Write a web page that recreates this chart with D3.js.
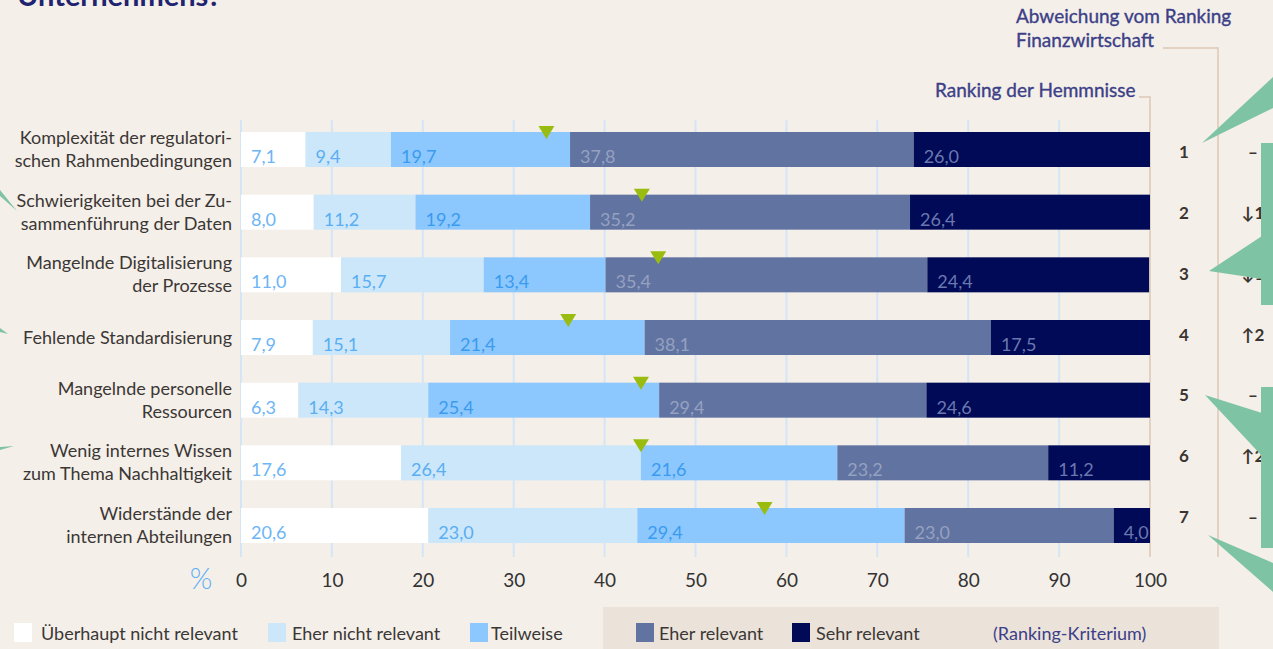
<!DOCTYPE html>
<html><head><meta charset="utf-8">
<script src="https://cdn.jsdelivr.net/npm/d3@7"></script>
<style>
html,body{margin:0;padding:0;background:#f4efe9;}
svg{display:block;font-family:Lato,"Open Sans",sans-serif;}
</style></head>
<body><svg id="c" width="1273" height="649"></svg>
<script>
const categories = [
  ["Komplexität der regulatori-","schen Rahmenbedingungen"],
  ["Schwierigkeiten bei der Zu-","sammenführung der Daten"],
  ["Mangelnde Digitalisierung","der Prozesse"],
  ["Fehlende Standardisierung"],
  ["Mangelnde personelle","Ressourcen"],
  ["Wenig internes Wissen","zum Thema Nachhaltigkeit"],
  ["Widerstände der","internen Abteilungen"]
];
const seriesNames = ["Überhaupt nicht relevant","Eher nicht relevant","Teilweise","Eher relevant","Sehr relevant"];
const ueberhauptNicht = [7.1, 8.0, 11.0, 7.9, 6.3, 17.6, 20.6];
const eherNicht       = [9.4, 11.2, 15.7, 15.1, 14.3, 26.4, 23.0];
const teilweise       = [19.7, 19.2, 13.4, 21.4, 25.4, 21.6, 29.4];
const eherRelevant    = [37.8, 35.2, 35.4, 38.1, 29.4, 23.2, 23.0];
const sehrRelevant    = [26.0, 26.4, 24.4, 17.5, 24.6, 11.2, 4.0];
const markerValues    = [33.6, 44.1, 45.9, 36.0, 44.0, 44.0, 57.6];
const ranking         = [1, 2, 3, 4, 5, 6, 7];
const deviation       = ["–", "↓1", "↓1", "↑2", "–", "↑2", "–"];
const xTicks          = [0,10,20,30,40,50,60,70,80,90,100];

const colors = ["#ffffff","#cce7f9","#8cc7fd","#6173a0","#000a56"];
const labelColors = ["#6db5f5","#5aaef3","#3a9bef","#95a1c1","#6b78b0"];

const svg = d3.select("#c");
const keys = ["a","b","c","d","e"];
const rows = categories.map((c,i)=>({i, a:ueberhauptNicht[i], b:eherNicht[i], c:teilweise[i], d:eherRelevant[i], e:sehrRelevant[i]}));
const stack = d3.stack().keys(keys)(rows);

const x = d3.scaleLinear().domain([0,100]).range([241,1150]);
const y = d3.scaleBand().domain(d3.range(categories.length)).range([132,543]).paddingInner(0.4415).paddingOuter(0);
const bw = y.bandwidth();
const yRank = d3.scaleLinear().domain([1,7]).range([152,517]);

// top title fragment
svg.append("text").attr("x",17).attr("y",6).attr("font-size",29).attr("font-weight","bold").attr("fill","#1f2370").text("Unternehmens?");

// gridlines
svg.append("g").selectAll("line").data(xTicks).join("line")
  .attr("x1",d=>x(d)).attr("x2",d=>x(d)).attr("y1",120).attr("y2",557)
  .attr("stroke",d=>d===100?"none":"#d4e6f6").attr("stroke-width",2);

// header bracket lines
const tan = "#dcc9b6";
svg.append("path").attr("d","M1139,97H1150V557").attr("fill","none").attr("stroke",tan).attr("stroke-width",1.5);
svg.append("path").attr("d","M1163,48H1218V557").attr("fill","none").attr("stroke",tan).attr("stroke-width",1.5);

// bars
const g = svg.append("g");
stack.forEach((s,k)=>{
  g.append("g").selectAll("rect").data(s).join("rect")
    .attr("x",d=>x(d[0])).attr("y",(d,i)=>y(i)).attr("width",d=>x(d[1])-x(d[0])).attr("height",bw)
    .attr("fill",colors[k]);
});
stack.forEach((s,k)=>{
  g.append("g").selectAll("text").data(s).join("text")
    .attr("x",d=>x(d[0])+10).attr("y",(d,i)=>y(i)+bw-4)
    .attr("font-size",18).attr("font-weight",400).attr("fill",labelColors[k])
    .text(d=>(d[1]-d[0]).toFixed(1).replace(".",","));
});

// markers
svg.append("g").selectAll("path").data(markerValues).join("path")
  .attr("transform",(d,i)=>`translate(${x(d)},${y(i)})`)
  .attr("d","M-8,-6L8,-6L0,7Z").attr("fill","#9abc10");

// category labels
const cl = svg.append("g").attr("font-size",18).attr("fill","#3b3735").attr("text-anchor","end");
categories.forEach((lines,i)=>{
  const t = cl.append("text").attr("x",232);
  if(lines.length===1){
    t.attr("y",y(i)+bw/2+6).text(lines[0]);
  } else {
    t.append("tspan").attr("x",232).attr("y",y(i)+12).text(lines[0]);
    t.append("tspan").attr("x",232).attr("y",y(i)+35).text(lines[1]);
  }
});

// x axis
const ax = svg.append("g").attr("transform","translate(0,574)")
  .call(d3.axisBottom(x).tickValues(xTicks).tickSize(0).tickPadding(0));
ax.select(".domain").remove();
ax.selectAll("text").attr("font-size",19).attr("fill","#333").attr("font-family","Lato,sans-serif").attr("dy","0.7em");
svg.append("text").attr("x",201).attr("y",589).attr("text-anchor","middle").attr("font-size",29).attr("font-weight",300).attr("fill","#5fb0f5").text("%");

// ranking & deviation
svg.append("g").selectAll("text").data(ranking).join("text")
  .attr("x",1184).attr("y",d=>yRank(d)+6).attr("text-anchor","middle")
  .attr("font-size",17).attr("font-weight","bold").attr("fill","#3a3530").text(d=>d);
svg.append("g").selectAll("text").data(deviation).join("text")
  .attr("x",1253).attr("y",(d,i)=>yRank(ranking[i])+6).attr("text-anchor","middle")
  .attr("font-size",17).attr("font-weight","bold").attr("fill","#3a3530").text(d=>d);

// header labels
const hc = "#3c3f88";
const hd = svg.append("g").attr("font-size",19).attr("font-weight",400).attr("fill",hc).attr("stroke",hc).attr("stroke-width",0.35);
hd.append("text").attr("x",1016).attr("y",23).text("Abweichung vom Ranking");
hd.append("text").attr("x",1016).attr("y",47).text("Finanzwirtschaft");
hd.append("text").attr("x",935).attr("y",97).text("Ranking der Hemmnisse");

// decorative green callouts
const green = "#7ec4a4";
const shapes = [
  "M1202,143L1273,77L1273,108Z",
  "M1261,143H1273V305H1261Z",
  "M1209,271L1262,236L1262,279Z",
  "M1261,387H1273V548H1261Z",
  "M1205,395L1262,413L1262,456Z",
  "M1208,535L1273,563L1273,592Z",
  "M0,190L0,196L17,211Z",
  "M0,328L0,332L8,334Z",
  "M0,447L0,450L14,446Z"
];
svg.append("g").selectAll("path").data(shapes).join("path").attr("d",d=>d).attr("fill",green);

// legend
svg.append("rect").attr("x",603).attr("y",607).attr("width",616).attr("height",42).attr("fill","#ebe2d9");
const legX = [14,268,470,636,792];
const legTextX = [41,292,491,659,816];
const lg = svg.append("g");
seriesNames.forEach((n,k)=>{
  lg.append("rect").attr("x",legX[k]).attr("y",623).attr("width",18).attr("height",19).attr("fill",colors[k]);
  lg.append("text").attr("x",legTextX[k]).attr("y",640).attr("font-size",18).attr("fill","#3b3735").text(n);
});
lg.append("text").attr("x",993).attr("y",640).attr("font-size",18).attr("fill","#3c3f88").text("(Ranking-Kriterium)");
</script></body></html>
